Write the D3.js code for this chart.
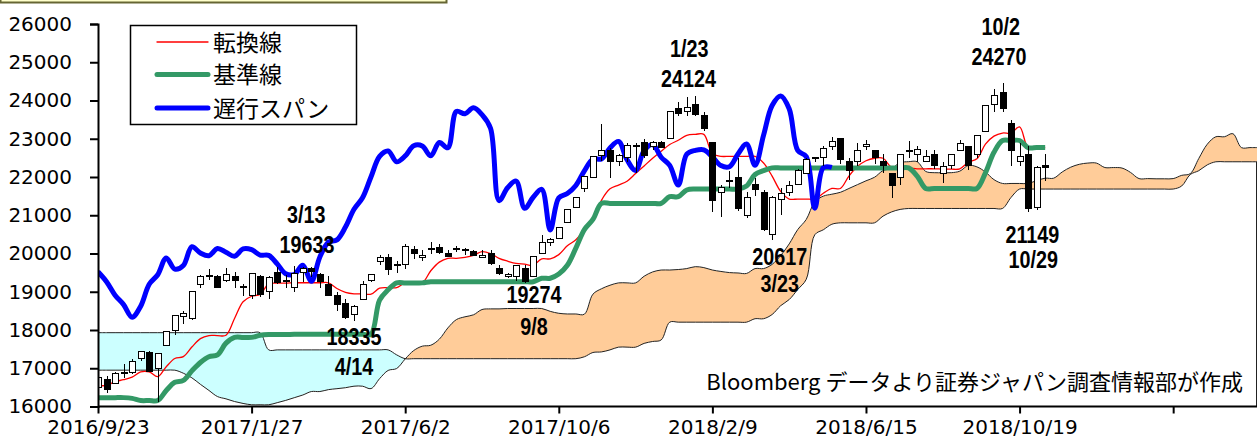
<!DOCTYPE html>
<html>
<head>
<meta charset="utf-8">
<script src="https://cdn.jsdelivr.net/npm/d3@7"></script>
<style>
  body { margin: 0; background: #fff; }
  svg { display: block; }
</style>
</head>
<body>
<svg id="chart" width="1259" height="441"></svg>
<script>
// weekly candles, week 0 = 2016/9/23
const opens = [16500,16700,16600,16900,16900,17250,17400,17000,17600,18000,
  18350,18300,19200,19400,19400,19300,19400,19100,18900,19400,
  19000,19500,19300,19100,19500,19600,19450,19200,18900,18700,
  18400,18800,19300,19800,19900,19700,19700,20100,19900,20100,
  20150,20000,20100,20100,20050,19900,20000,19600,19400,19400,
  19600,19400,20000,20300,20400,20800,21200,21700,22000,22550,
  22700,22400,22500,22800,22900,22800,22900,23000,23800,23700,
  23900,23600,22900,21600,21900,22000,21000,21800,21600,20500,
  21400,21600,21800,22100,22500,22500,22800,23000,22400,22400,
  22800,22700,22400,22100,22000,22700,22600,22400,22600,22100,
  22300,22700,22800,22600,23200,23900,24200,23400,22400,22600,
  21200,22300];
const highs = [16807,16800,16900,17100,17240,17450,17450,17400,17970,18400,
  18500,19000,19440,19600,19430,19615,19520,19200,19500,19450,
  19400,19650,19450,19670,19650,19640,19500,19400,19000,18800,
  18650,19290,19450,19960,19990,19800,20240,20200,20100,20300,
  20250,20100,20200,20150,20100,20100,20100,19700,19500,19700,
  19700,19910,20480,20400,20700,21160,21480,22010,22540,23380,
  22750,22600,22900,22900,23000,22950,22950,23730,23950,24080,
  24129,23700,22900,21800,22150,22500,21600,21970,21650,21500,
  21700,21900,22200,22500,22500,22800,23050,23000,22500,22900,
  22970,22700,22600,22100,22600,22950,22800,22700,22700,22400,
  22600,22970,22800,23100,23870,24290,24448,23500,22900,22800,
  22300,22600];
const lows = [16490,16360,16590,16750,16850,17200,16900,16111,17600,17860,
  18150,18250,19100,19300,19100,19250,19100,18900,18800,18850,
  18800,19200,19100,19000,19250,19380,19100,18900,18500,18300,
  18224,18800,19250,19700,19450,19500,19600,19850,19800,20000,
  19990,19900,20050,19950,19950,19900,19700,19450,19350,19280,
  19240,19400,20000,20200,20400,20800,21200,21600,22000,22420,
  21970,22300,22400,22100,22500,22700,22750,23000,23600,23600,
  23600,23200,21080,20950,21700,21100,20940,21500,20600,20347,
  21000,21500,21800,22100,22400,22300,22700,22350,21930,22300,
  22700,22350,22100,21460,21800,22500,22400,22400,22200,21850,
  22200,22700,22170,22500,23200,23700,23700,22300,22300,21090,
  21149,21900];
const closes = [16754,16450,16860,16856,17184,17446,16905,17374,17968,18381,
  18426,18996,19401,19427,19114,19454,19287,19137,19467,18918,
  19378,19234,19283,19469,19604,19521,19262,18909,18664,18335,
  18620,19196,19445,19883,19590,19686,20177,20013,19943,20132,
  20033,19929,20118,20099,19959,19952,19729,19470,19452,19691,
  19274,19909,20296,20356,20690,21155,21457,22008,22539,22681,
  22396,22550,22819,22811,22553,22902,22764,23714,23653,23808,
  23631,23274,21383,21720,21892,21181,21469,21676,20617,21454,
  21567,21778,22162,22467,22472,22758,22930,22450,22171,22694,
  22851,22516,22304,21788,22597,22697,22712,22525,22298,22270,
  22601,22865,22307,23094,23869,24120,23783,22694,22532,21184,
  22243,22250];

// 転換線 / 基準線, one value per candle week
const tenkan = [16550,16550,16650,16700,16770,16905,16905,16780,17040,17255,
  17305,17555,17775,17855,17855,17862,18300,18737,18882,18932,
  19207,19225,19225,19235,19235,19235,19235,19235,19085,18985,
  18947,18947,18937,19092,19107,19107,19232,19232,19232,19550,
  19775,19875,19875,19900,19950,20050,20000,19875,19800,19740,
  19720,19695,19860,19860,19970,20200,20360,20625,20890,21390,
  21690,21790,21890,22090,22290,22490,22675,22850,22960,23090,
  23115,23115,22605,22540,22540,22540,22540,22540,22365,22024,
  21624,21424,21424,21424,21424,21574,21700,21700,22025,22275,
  22425,22490,22490,22255,22255,22230,22215,22215,22215,22205,
  22205,22215,22385,22475,22860,23070,23149,23149,23309,22769,
  22769,22769];
const kijun = [16232,16232,16232,16232,16212,16157,16157,16157,16417,16632,
  16682,16932,17152,17300,17350,17657,17807,17807,17807,17862,
  17880,17880,17880,17890,17890,17890,17890,17890,17890,17890,
  17890,17890,17890,18780,19050,19232,19232,19232,19232,19262,
  19262,19262,19262,19262,19262,19262,19262,19262,19262,19262,
  19262,19262,19352,19352,19462,19692,20140,20625,20890,21310,
  21310,21310,21310,21310,21310,21310,21310,21485,21485,21660,
  21685,21685,21685,21685,21685,21685,21765,22065,22165,22238,
  22238,22238,22238,22238,22238,22238,22238,22238,22238,22238,
  22238,22238,22238,22238,22238,22238,22024,21700,21700,21700,
  21700,21700,21700,21700,22108,22645,22954,22954,22954,22769,
  22769,22769];

// 先行スパン1 / 2, already shifted forward (weeks 0..136)
const spanA = [16950,16950,16950,16950,16950,16950,16950,16950,16950,16950,
  16870,16750,16580,16420,16260,16200,16130,16080,16045,16045,
  16045,16100,16160,16230,16300,16391,16391,16441,16466,16491,
  16531,16531,16468,16728,16943,16993,17243,17463,17577,17602,
  17760,18054,18272,18345,18397,18535,18552,18552,18562,18562,
  18562,18562,18562,18487,18437,18419,18419,18413,18936,19078,
  19170,19232,19232,19232,19406,19518,19568,19568,19581,19606,
  19656,19631,19568,19531,19501,19491,19478,19606,19606,19716,
  19946,20250,20625,20890,21350,21500,21550,21600,21700,21800,
  21900,21993,22168,22223,22375,22400,22400,22145,22113,22113,
  22113,22153,22303,22265,22131,21931,21831,21831,21831,21831,
  21906,21969,21969,22132,22257,22332,22364,22364,22247,22247,
  22234,22120,21958,21958,21953,21953,21958,22043,22088,22484,
  22858,23052,23052,23132,22769,22769,22769];
const spanB = [17930,17930,17930,17930,17930,17930,17930,17930,17930,17930,
  17930,17930,17930,17930,17930,17930,17930,17930,17930,17930,
  17480,17480,17480,17480,17480,17480,17480,17480,17480,17480,
  17480,17480,17480,17480,17480,17350,17250,17250,17250,17250,
  17250,17250,17250,17250,17250,17250,17250,17250,17250,17250,
  17250,17250,17250,17250,17250,17250,17250,17300,17412,17427,
  17480,17552,17552,17552,17650,17700,17740,18205,18205,18205,
  18205,18205,18205,18205,18205,18205,18205,18295,18295,18405,
  18635,18795,19060,19325,20490,20620,20765,20802,20802,20802,
  20802,20802,20977,21087,21152,21177,21177,21177,21177,21177,
  21177,21177,21177,21177,21177,21177,21177,21465,21685,21685,
  21685,21685,21685,21685,21685,21685,21685,21685,21685,21685,
  21685,21685,21685,21685,21685,21685,21685,21765,22065,22165,
  22318,22398,22398,22398,22398,22398,22398];
const chikouLag = 25;

const yTicks = [16000,17000,18000,19000,20000,21000,22000,23000,24000,25000,26000];
const xTickWeeks = [0,18,36,54,72,90,108,126];
const xTickLabels = ["2016/9/23","2017/1/27","2017/6/2","2017/10/6","2018/2/9","2018/6/15","2018/10/19",""];

const legendNames = ["転換線","基準線","遅行スパン"];
const noteTexts  = ["3/13","19633","18335","4/14","19274","9/8","1/23","24124","20617","3/23","10/2","24270","21149","10/29"];
const noteWeeks  = [24.4,24.5,30,30,51.1,51.1,69.3,69.2,79.9,79.9,105.8,105.6,109.5,109.6];
const noteLevels = [20805,20021,17608,16824,18706,17869,25145,24345,19699,19001,25712,24928,20267,19613];
const sourceText = "Bloomberg データより証券ジャパン調査情報部が作成";

const svg = d3.select("#chart");
const plotL = 98, plotR = 1257, plotB = 406.5, plotT = 24;
const x = d3.scaleLinear().domain([0, 136]).range([plotL, 1258.5]);
const y = d3.scaleLinear().domain([16000, 26000]).range([plotB, plotT]);

// title box remnant at the very top
svg.append("rect").attr("x", 0.5).attr("y", -20).attr("width", 446).attr("height", 22.5)
  .attr("fill", "#ffffcc").attr("stroke", "#666633").attr("stroke-width", 2);

const defs = svg.append("defs");
defs.append("clipPath").attr("id", "plot").append("rect")
  .attr("x", plotL).attr("y", 0).attr("width", plotR - plotL).attr("height", plotB);

const spanIdx = d3.range(spanA.length);
const curve = d3.curveCatmullRom;
defs.append("clipPath").attr("id", "aboveA").append("path")
  .attr("d", d3.area().x(i => x(i)).y0(0).y1(i => y(spanA[i])).curve(curve)(spanIdx));
defs.append("clipPath").attr("id", "belowA").append("path")
  .attr("d", d3.area().x(i => x(i)).y0(441).y1(i => y(spanA[i])).curve(curve)(spanIdx));

const g = svg.append("g").attr("clip-path", "url(#plot)");

// cloud
const between = d3.area().x(i => x(i)).y0(i => y(spanA[i])).y1(i => y(spanB[i])).curve(curve);
g.append("path").attr("clip-path", "url(#aboveA)").attr("fill", "#ccffff").attr("d", between(spanIdx));
g.append("path").attr("clip-path", "url(#belowA)").attr("fill", "#ffcc99").attr("d", between(spanIdx));
[spanA, spanB].forEach(s => {
  g.append("path").attr("fill", "none").attr("stroke", "#222").attr("stroke-width", 1)
    .attr("d", d3.line().x(i => x(i)).y(i => y(s[i])).curve(curve)(spanIdx));
});
const last = spanB.length - 1;
svg.append("line").attr("x1", plotR - 0.5).attr("x2", plotR - 0.5)
  .attr("y1", y(spanB[last])).attr("y2", plotB).attr("stroke", "#222");

// lines
const weeks = d3.range(closes.length);
g.append("path").attr("fill", "none").attr("stroke", "#ff0000").attr("stroke-width", 1.3)
  .attr("d", d3.line().x(i => x(i)).y(i => y(tenkan[i])).curve(curve)(weeks));
g.append("path").attr("fill", "none").attr("stroke", "#339966").attr("stroke-width", 5)
  .attr("stroke-linejoin", "round")
  .attr("d", d3.line().x(i => x(i)).y(i => y(kijun[i])).curve(curve)(weeks));
const lagWeeks = d3.range(closes.length - chikouLag);
g.append("path").attr("fill", "none").attr("stroke", "#0000ff").attr("stroke-width", 5)
  .attr("stroke-linejoin", "round")
  .attr("d", d3.line().x(i => x(i)).y(i => y(closes[i + chikouLag])).curve(curve)(lagWeeks));

// candles
const bodyW = 7;
const cg = g.append("g").attr("shape-rendering", "crispEdges");
cg.selectAll("line").data(weeks).join("line")
  .attr("x1", i => Math.round(x(i)) + 0.5).attr("x2", i => Math.round(x(i)) + 0.5)
  .attr("y1", i => y(highs[i])).attr("y2", i => y(lows[i]))
  .attr("stroke", "#000");
cg.selectAll("rect").data(weeks).join("rect")
  .attr("x", i => Math.round(x(i)) - 3 + 0.5)
  .attr("y", i => y(Math.max(opens[i], closes[i])))
  .attr("width", bodyW - 1)
  .attr("height", i => Math.max(1, Math.abs(y(opens[i]) - y(closes[i]))))
  .attr("fill", i => closes[i] >= opens[i] ? "#fff" : "#000")
  .attr("stroke", "#000");

// axes
const yAxis = svg.append("g").attr("transform", `translate(${plotL},0)`)
  .call(d3.axisLeft(y).tickValues(yTicks).tickSize(8).tickFormat(d3.format("d")));
yAxis.select(".domain").attr("stroke", "#000").attr("stroke-width", 2);
yAxis.selectAll(".tick line").attr("stroke-width", 2);
yAxis.selectAll(".tick text").attr("x", -26).attr("font-family", "DejaVu Sans").attr("font-size", 20).attr("fill", "#000");

const xAxis = svg.append("g").attr("transform", `translate(0,${plotB})`)
  .call(d3.axisBottom(x).tickValues(xTickWeeks).tickSize(7).tickFormat((d, i) => xTickLabels[i]));
xAxis.select(".domain").attr("d", `M${plotL},0H${plotR}`).attr("stroke", "#000").attr("stroke-width", 2);
xAxis.selectAll(".tick line").attr("stroke-width", 2);
xAxis.selectAll(".tick text").attr("y", 13).attr("dy", "0.71em").attr("font-family", "DejaVu Sans").attr("font-size", 20).attr("fill", "#000");

// annotations
noteTexts.forEach((t, i) => {
  svg.append("text")
    .attr("transform", `translate(${x(noteWeeks[i])},${y(noteLevels[i])}) scale(0.86,1)`)
    .attr("text-anchor", "middle")
    .attr("font-family", "Liberation Sans, Arial, sans-serif").attr("font-weight", "bold").attr("font-size", 23)
    .attr("fill", "#000").text(t);
});

// source
svg.append("text").attr("x", 1243).attr("y", 390).attr("text-anchor", "end")
  .attr("font-family", "Noto Sans CJK JP").attr("font-size", 22).attr("fill", "#000").text(sourceText);

// legend
const lg = svg.append("g");
lg.append("rect").attr("x", 130.5).attr("y", 25.5).attr("width", 226).attr("height", 99)
  .attr("fill", "#fff").attr("stroke", "#000").attr("stroke-width", 1.5);
const legColors = ["#ff0000", "#339966", "#0000ff"];
const legWidths = [1.3, 5, 5];
const legY = [42, 74.5, 108];
legendNames.forEach((n, i) => {
  lg.append("line").attr("x1", 157).attr("x2", 208).attr("y1", legY[i]).attr("y2", legY[i])
    .attr("stroke", legColors[i]).attr("stroke-width", legWidths[i]).attr("stroke-linecap", "round");
  lg.append("text").attr("x", 213).attr("y", legY[i] + 8.5)
    .attr("font-family", "Noto Sans CJK JP").attr("font-size", 23).attr("fill", "#000").text(n);
});
</script>
</body>
</html>
